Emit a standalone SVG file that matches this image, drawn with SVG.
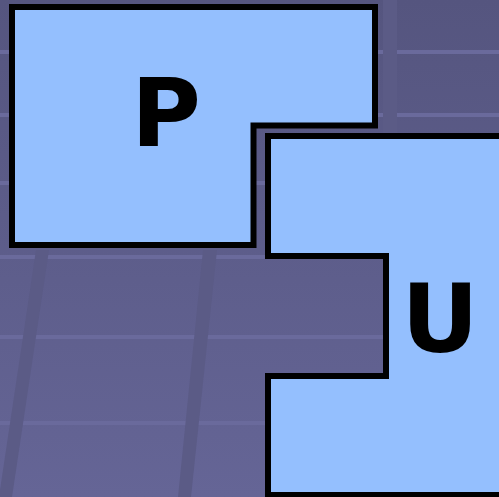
<svg xmlns="http://www.w3.org/2000/svg" width="499" height="497" viewBox="0 0 499 497">
  <defs>
    <linearGradient id="bg" x1="0" y1="0" x2="0" y2="1">
      <stop offset="0" stop-color="#55557f"/>
      <stop offset="1" stop-color="#656596"/>
    </linearGradient>
  </defs>
  <style>
    .hl { fill: #6a6a9c; }
    .band { fill: #5b5b86; }
    .shape { fill: #94bffe; stroke: #000; stroke-width: 6; stroke-linejoin: miter; }
    .lbl { font-family: "DejaVu Sans", sans-serif; font-weight: bold; font-size: 95px; fill: #000; text-anchor: middle; }
  </style>
  <g id="background">
    <rect x="0" y="0" width="499" height="497" fill="url(#bg)"/>
    <rect class="hl" x="0" y="50" width="499" height="4"/>
    <rect class="hl" x="0" y="113" width="499" height="4"/>
    <rect class="hl" x="0" y="181" width="499" height="4"/>
    <rect class="hl" x="0" y="255" width="499" height="4"/>
    <rect class="hl" x="0" y="335" width="499" height="4"/>
    <rect class="hl" x="0" y="421" width="499" height="4"/>
    <rect class="band" x="383" y="0" width="14" height="136"/>
    <polygon class="band" points="36,250 49,250 12,497 0,497 0,490"/>
    <polygon class="band" points="203,250 217,250 191,497 178,497"/>
  </g>
  <g id="node-P">
    <polygon class="shape" points="12,7 375,7 375,125.5 253.5,125.5 253.5,245 12,245"/>
    <text class="lbl" x="166" y="146">P</text>
  </g>
  <g id="node-U">
    <polygon class="shape" points="268,136 506,136 506,495 268,495 268,376 386,376 386,256 268,256"/>
    <text class="lbl" x="440" y="352">U</text>
  </g>
  <g id="connectors"/>
</svg>
